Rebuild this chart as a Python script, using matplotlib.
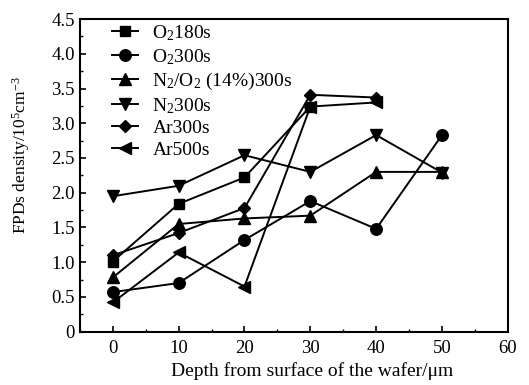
import matplotlib
matplotlib.use('Agg')
import matplotlib.pyplot as plt
from matplotlib.ticker import MultipleLocator

plt.rcParams['font.family'] = ['Liberation Serif', 'DejaVu Serif']
plt.rcParams['mathtext.fontset'] = 'custom'
plt.rcParams['mathtext.rm'] = 'Liberation Serif'
plt.rcParams['mathtext.it'] = 'Liberation Serif'
plt.rcParams['mathtext.default'] = 'rm'

# data
depth = [0, 10, 20, 30, 40, 50]
o2_180 = [1.01, 1.84, 2.22, 3.24]
o2_300 = [0.57, 0.70, 1.32, 1.88, 1.48, 2.83]
n2o2_300 = [0.78, 1.55, 1.63, 1.67, 2.30, 2.30]
n2_300 = [1.95, 2.10, 2.54, 2.30, 2.83, 2.29]
ar_300 = [1.10, 1.42, 1.78, 3.41, 3.37]
ar_500 = [0.42, 1.14, 0.65, 3.24, 3.30]

series = [
    ('O$_2$180s', o2_180, 's'),
    ('O$_2$300s', o2_300, 'o'),
    ('N$_2$/O$_2$ (14%)300s', n2o2_300, '^'),
    ('N$_2$300s', n2_300, 'v'),
    ('Ar300s', ar_300, 'D'),
    ('Ar500s', ar_500, '<'),
]

fig = plt.figure(figsize=(5.29, 3.85), dpi=100)
ax = fig.add_axes([0.151, 0.1385, 0.809, 0.812])

for label, vals, mk in series:
    ms = 6.5 if mk == 'D' else 8.3
    if mk == 's':
        ms = 7.5
    ax.plot(depth[:len(vals)], vals, color='black', lw=1.4, marker=mk,
            markersize=ms, markerfacecolor='black', label=label)

ax.set_xlim(-5, 60)
ax.set_ylim(0, 4.5)
ax.xaxis.set_major_locator(MultipleLocator(10))
ax.xaxis.set_minor_locator(MultipleLocator(5))
ax.yaxis.set_minor_locator(MultipleLocator(0.25))
ax.set_yticks([0, 0.5, 1.0, 1.5, 2.0, 2.5, 3.0, 3.5, 4.0, 4.5])
ax.set_yticklabels(['0', '0.5', '1.0', '1.5', '2.0', '2.5', '3.0', '3.5', '4.0', '4.5'])
ax.tick_params(which='major', direction='in', length=4, width=1.2, labelsize=13.5)
ax.tick_params(axis='x', which='major', pad=6)
ax.tick_params(which='minor', direction='in', length=2.5, width=1.0)
for sp in ax.spines.values():
    sp.set_linewidth(1.5)

ax.set_xlabel('Depth from surface of the wafer/\u03bcm', fontsize=14)
ax.set_ylabel('FPDs density/10$^5$cm$^{-3}$', fontsize=12.5)
ax.xaxis.set_label_coords(0.542, -0.097)
ax.yaxis.set_label_coords(-0.112, 0.565)

ax.legend(loc='upper left', bbox_to_anchor=(0.056, 1.012), frameon=False,
          fontsize=14, handlelength=1.35, handletextpad=0.75, labelspacing=0.21,
          borderaxespad=0)

fig.savefig('out.png', dpi=100)
